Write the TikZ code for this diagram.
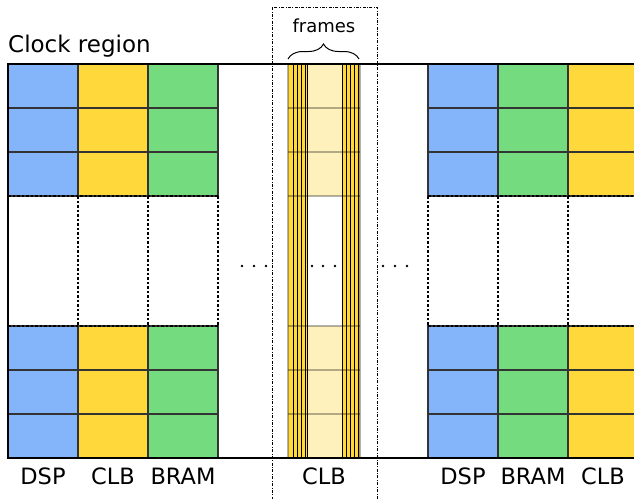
\documentclass[tikz,border=0pt]{standalone}
\usepackage{fontspec}
\setmainfont{DejaVu Sans}
\usetikzlibrary{decorations.pathreplacing}
\definecolor{dspblue}{HTML}{84B4FA}
\definecolor{clbyellow}{HTML}{FFD83C}
\definecolor{bramgreen}{HTML}{74DB7F}
\definecolor{clblight}{HTML}{FFF1BB}
\begin{document}
\begin{tikzpicture}[x=1pt,y=-1pt,
  cell/.style={draw=black!80, line width=1.1pt},
  blank/.style={dashed, line width=1.1pt, dash pattern=on 2.5pt off 2pt},
  frameline/.style={draw=black, line width=0.9pt},
  ghost/.style={draw=black, draw opacity=0.3, line width=1.3pt},
  lbl/.style={font=\fontsize{22.5}{26}\selectfont, inner sep=0pt},
  dotmark/.style={circle, fill=black, inner sep=0pt, minimum size=2.6pt}]
\useasboundingbox (0,0) rectangle (634,498);
\clip (0,0) rectangle (634,498);

% resource columns: DSP, CLB, BRAM tiles on both sides
\foreach \x/\c in {8/dspblue,78/clbyellow,148/bramgreen,428/dspblue,498/bramgreen,568/clbyellow}
  \foreach \y in {64,108,152,326,370,414}
    \filldraw[cell, fill=\c] (\x,\y) rectangle ++(70,44);

% omitted rows in the middle of the clock region
\foreach \x in {78,148,218,428,498,568}
  \draw[blank] (\x,196) -- (\x,326);
\draw[blank] (8,196) -- (218,196);
\draw[blank] (8,326) -- (218,326);
\draw[blank] (428,196) -- (634,196);
\draw[blank] (428,326) -- (634,326);

% highlighted CLB column split into frames
\foreach \y in {64,108,152,326,370,414}
  \fill[clblight] (288,\y) rectangle ++(72,44);
\fill[clbyellow] (288,64) rectangle (307,458);
\fill[clbyellow] (342,64) rectangle (360,458);
\foreach \x in {293,297,301,305,307,342,346,350,354,358}
  \draw[frameline] (\x,64) -- (\x,458);
\foreach \y in {108,152,196,326,370,414}
  \draw[ghost] (288,\y) -- (360,\y);
\draw[ghost] (288,64) -- (288,458);
\draw[ghost] (360,64) -- (360,458);

% clock region outline
\draw[line width=1.3pt] (634,64) -- (8,64) -- (8,458) -- (634,458);

% dash-dotted box around the highlighted column
\draw[line width=0.7pt, dash pattern=on 3pt off 1.5pt on 0.8pt off 1.5pt] (272,7) rectangle (377,520);

% brace over the frames
\draw[line width=1pt, decorate, decoration={brace, amplitude=15pt}] (288,59) -- (359,59);
\node[font=\fontsize{18}{21}\selectfont, inner sep=0pt] (frm) at (324,26) {frames};

% ellipses between columns
\foreach \i/\x in {a/242,b/254,c/266,d/312,e/323,f/335,g/383,h/395,k/407}
  \node[dotmark] (dot\i) at (\x,266) {};

% labels
\node[font=\fontsize{23}{26}\selectfont, inner sep=0pt, anchor=base west] (clk) at (8,52) {Clock region};
\node[lbl, anchor=base] (l1) at (43,484) {DSP};
\node[lbl, anchor=base] (l2) at (113,484) {CLB};
\node[lbl, anchor=base] (l3) at (183,484) {BRAM};
\node[lbl, anchor=base] (l4) at (324,484) {CLB};
\node[lbl, anchor=base] (l5) at (463,484) {DSP};
\node[lbl, anchor=base] (l6) at (533,484) {BRAM};
\node[lbl, anchor=base] (l7) at (603,484) {CLB};
\end{tikzpicture}
\end{document}
